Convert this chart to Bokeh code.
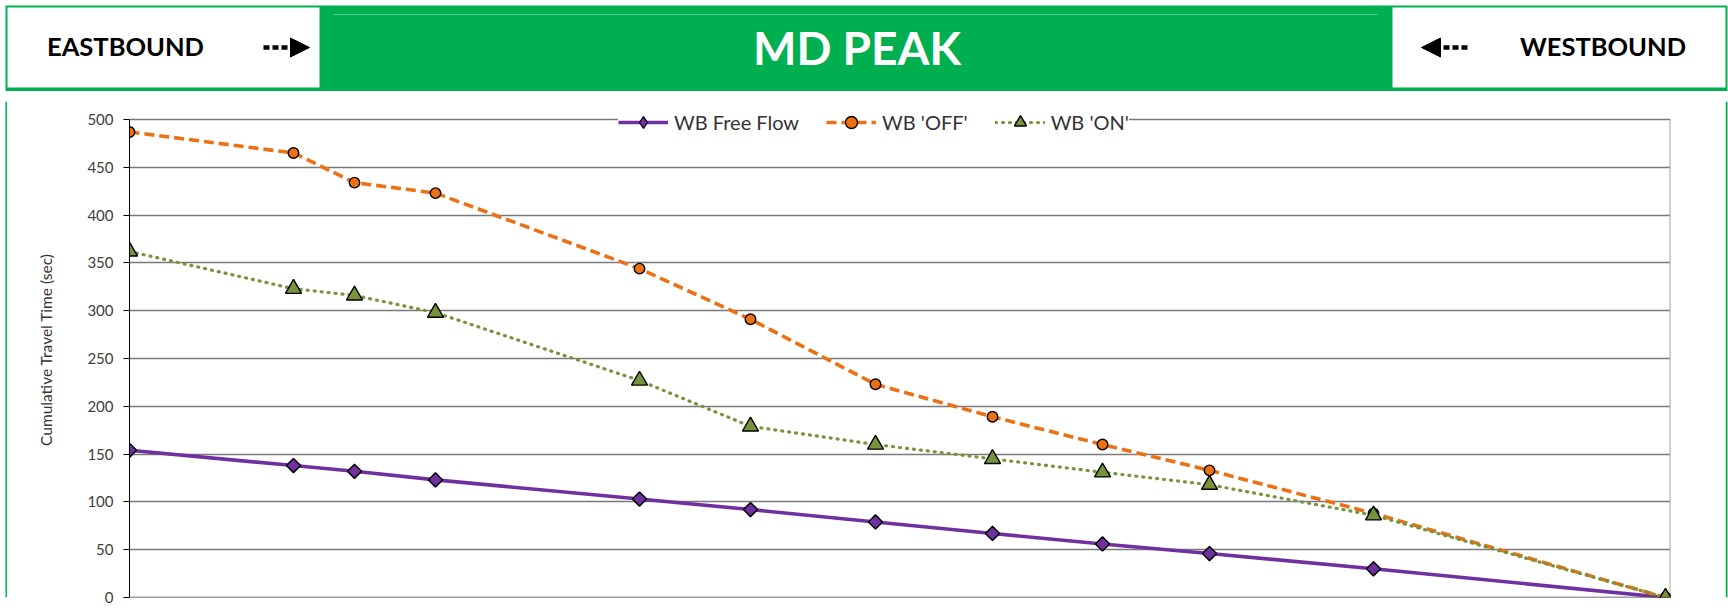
import math
from bokeh.plotting import figure
from bokeh.models import (Range1d, Label, Legend, LegendItem, Span, Arrow,
                          NormalHead, FixedTicker)
from bokeh.layouts import column, row
from bokeh.embed import file_html
from bokeh.resources import INLINE

# ---------------- data ----------------
segment_position = [0, 164, 225, 306, 510, 621, 746, 863, 973, 1080, 1244, 1536]
wb_free_flow = [154, 138, 132, 123, 103, 92, 79, 67, 56, 46, 30, 0]
wb_off = [487, 465, 434, 423, 344, 291, 223, 189, 160, 133, 88, 0]
wb_on = [362, 323, 316, 298, 227, 179, 160, 145, 131, 118, 86, 0]
series_labels = ["WB Free Flow", "WB 'OFF'", "WB 'ON'"]
y_ticks = [0, 50, 100, 150, 200, 250, 300, 350, 400, 450, 500]
y_label = "Cumulative Travel Time (sec)"
title_text = "MD PEAK"
left_dir = "EASTBOUND"
right_dir = "WESTBOUND"

# ---------------- styles ----------------
GREEN = "#00B050"
PURPLE = "#7030A0"
ORANGE = "#EC7014"
OLIVE = "#77933C"
FONT = "Lato"

W = 1728
HH = 91
CH = 520
LEFT_W = 7
RIGHT_W = 3
CW = W - LEFT_W - RIGHT_W
X_MAX = 1541

# frame geometry of the chart
MB_LEFT, MB_RIGHT, MB_TOP, MB_BOTTOM = 122, 55, 10, 14
FRAME_H = CH - MB_TOP - MB_BOTTOM
PX_PER_UNIT = 478 / 500
Y_MAX = FRAME_H / PX_PER_UNIT

# ---------------- header ----------------
hdr = figure(width=W, height=HH, x_range=Range1d(0, W), y_range=Range1d(HH, 0),
             toolbar_location=None, output_backend="svg", min_border=0,
             background_fill_color="white", border_fill_color="white",
             outline_line_color=None)
hdr.axis.visible = False
hdr.grid.visible = False
hdr.quad(left=[5], right=[1727], top=[5], bottom=[HH], fill_color=GREEN, line_color=None)
hdr.quad(left=[7, 1392], right=[319, 1725], top=[7, 7], bottom=[87, 87],
         fill_color="white", line_color=None)
hdr.segment(x0=[333], y0=[14], x1=[1377], y1=[14], line_color="#5FCB8C", line_width=1)

hdr.add_layout(Label(x=125, y=45.7, text=left_dir, text_align="center",
                     text_baseline="middle", text_font=FONT, text_font_style="bold",
                     text_font_size="25.5px", text_color="black"))
hdr.add_layout(Label(x=1602.5, y=45.5, text=right_dir, text_align="center",
                     text_baseline="middle", text_font=FONT, text_font_style="bold",
                     text_font_size="25.5px", text_color="black"))
hdr.add_layout(Label(x=856.5, y=47.3, text=title_text, text_align="center",
                     text_baseline="middle", text_font=FONT, text_font_style="bold",
                     text_font_size="46px", text_color="white"))
hdr.add_layout(Arrow(end=NormalHead(size=19, fill_color="black", line_color="black"),
                     x_start=263, y_start=47, x_end=309, y_end=47,
                     line_width=4.5, line_dash="6 3", line_color="black"))
hdr.add_layout(Arrow(end=NormalHead(size=19, fill_color="black", line_color="black"),
                     x_start=1467, y_start=47, x_end=1421, y_end=47,
                     line_width=4.5, line_dash="6 3", line_color="black"))

# ---------------- chart ----------------
p = figure(width=CW, height=CH, x_range=Range1d(0, X_MAX), y_range=Range1d(0, Y_MAX),
           toolbar_location=None, output_backend="svg",
           min_border_left=MB_LEFT, min_border_right=MB_RIGHT,
           min_border_top=MB_TOP, min_border_bottom=MB_BOTTOM,
           outline_line_color=None, background_fill_color="white",
           border_fill_color="white")
p.xaxis.visible = False
p.xgrid.visible = False

ax = p.yaxis[0]
ax.ticker = FixedTicker(ticks=y_ticks)
ax.bounds = (y_ticks[0], y_ticks[-1])
ax.major_tick_out = 6
ax.major_tick_in = 0
ax.minor_tick_out = 0
ax.minor_tick_in = 0
ax.axis_line_color = "black"
ax.major_tick_line_color = "black"
ax.major_label_text_font = FONT
ax.major_label_text_font_size = "15px"
ax.major_label_text_color = "#404040"
ax.major_label_standoff = 10
ax.axis_label = y_label
ax.axis_label_text_font = FONT
ax.axis_label_text_font_size = "15.5px"
ax.axis_label_text_font_style = "normal"
ax.axis_label_text_color = "#333333"
ax.axis_label_standoff = 29

p.ygrid.ticker = FixedTicker(ticks=y_ticks)
p.ygrid.grid_line_color = "#7A7A7A"
p.ygrid.grid_line_width = 1.3

p.add_layout(Span(location=0, dimension="width", line_color="#404040", line_width=1.3))
# right border of the plot area
p.segment(x0=[X_MAX], y0=[y_ticks[0]], x1=[X_MAX], y1=[y_ticks[-1]],
          line_color="#A6A6A6", line_width=2)

ff_line = p.line(segment_position, wb_free_flow, line_color=PURPLE, line_width=3.6,
                 line_join="round")
# diamond used as the legend swatch (legend does not rotate markers); it sits
# fully hidden under the rotated-square markers drawn right after it
ff_key = p.scatter(segment_position, wb_free_flow, marker="diamond", size=12,
                   fill_color=PURPLE, line_color="black", line_width=1.3)
ff_pts = p.scatter(segment_position, wb_free_flow, marker="square", angle=math.pi / 4,
                   size=10, fill_color=PURPLE, line_color="black", line_width=1.5)
off_line = p.line(segment_position, wb_off, line_color=ORANGE, line_width=3.6,
                  line_dash="10 5", line_join="round")
off_pts = p.scatter(segment_position, wb_off, marker="circle", size=10.5,
                    fill_color=ORANGE, line_color="black", line_width=1.4)
on_line = p.line(segment_position, wb_on, line_color=OLIVE, line_width=3.2,
                 line_dash="1 6", line_cap="round", line_join="round")
on_pts = p.scatter(segment_position, wb_on, marker="triangle", size=16,
                   fill_color=OLIVE, line_color="black", line_width=1.4)

legend = Legend(items=[LegendItem(label=series_labels[0], renderers=[ff_line, ff_key]),
                       LegendItem(label=series_labels[1], renderers=[off_line, off_pts]),
                       LegendItem(label=series_labels[2], renderers=[on_line, on_pts])],
                orientation="horizontal", location=(489, 460),
                glyph_width=50, glyph_height=30, label_standoff=6, spacing=27,
                padding=2, margin=0, border_line_color=None,
                background_fill_color="white", background_fill_alpha=1.0,
                label_text_font=FONT, label_text_font_size="20px",
                label_text_color="#333333")
p.add_layout(legend)


def edge(width, green_from, green_to):
    f = figure(width=width, height=CH, x_range=Range1d(0, width), y_range=Range1d(0, 1),
               title=None, toolbar_location=None, output_backend="svg", min_border=0,
               background_fill_color="white", border_fill_color="white",
               outline_line_color=None)
    f.axis.visible = False
    f.grid.visible = False
    f.quad(left=[green_from], right=[green_to], bottom=[0], top=[1],
           fill_color=GREEN, line_color=None)
    return f


layout = column(hdr, row(edge(LEFT_W, 5, 7), p, edge(RIGHT_W, 0, 2)))
open("out.html", "w").write(file_html(layout, INLINE))
